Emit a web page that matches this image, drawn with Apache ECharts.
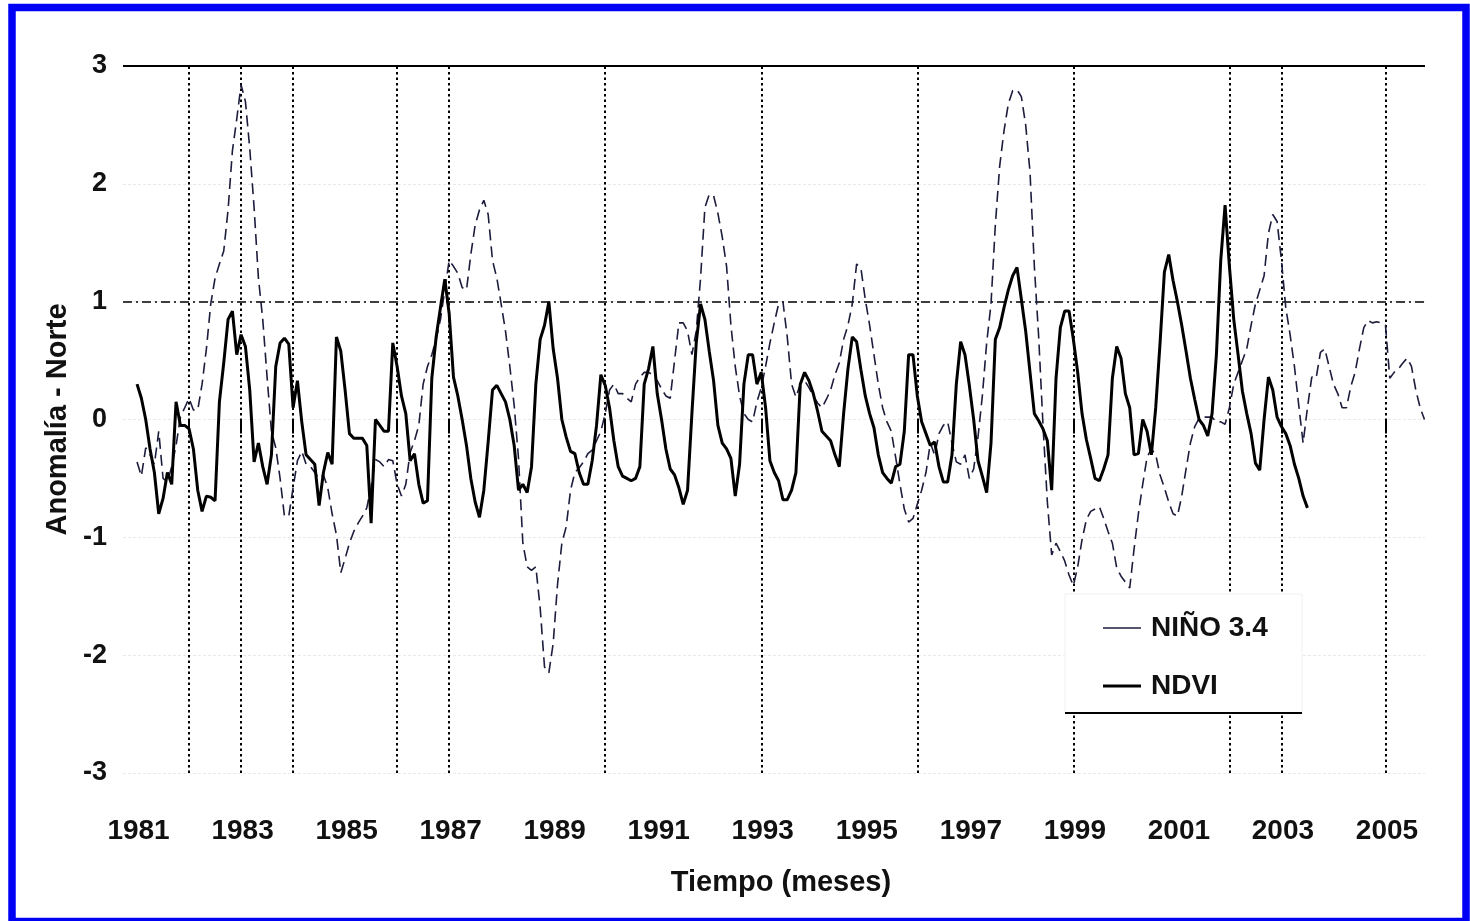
<!DOCTYPE html>
<html>
<head>
<meta charset="utf-8">
<script src="https://cdn.jsdelivr.net/npm/echarts@6/dist/echarts.min.js"></script>
<style>
html,body{margin:0;padding:0;background:#fff;}
#chart{width:1470px;height:921px;}
</style>
</head>
<body>
<div id="chart"></div>
<script>
// ---- data (monthly anomalies) ----
const startYear = 1981;
const ndviValues = [
  0.30, 0.18, 0.00, -0.25, -0.45, -0.80, -0.67, -0.45, -0.55, 0.15, -0.05, -0.05,
  -0.08, -0.25, -0.60, -0.78, -0.65, -0.66, -0.69, 0.15, 0.48, 0.85, 0.92, 0.55,
  0.72, 0.62, 0.25, -0.36, -0.20, -0.40, -0.55, -0.30, 0.45, 0.65, 0.69, 0.64,
  0.10, 0.33, -0.02, -0.30, -0.34, -0.38, -0.73, -0.45, -0.28, -0.38, 0.70, 0.58,
  0.25, -0.12, -0.16, -0.16, -0.16, -0.22, -0.88, 0.00, -0.05, -0.10, -0.10, 0.65,
  0.45, 0.20, 0.05, -0.35, -0.29, -0.55, -0.71, -0.69, 0.35, 0.70, 0.95, 1.19,
  0.90, 0.36, 0.20, 0.00, -0.22, -0.50, -0.70, -0.83, -0.60, -0.19, 0.25, 0.29,
  0.22, 0.15, 0.00, -0.22, -0.60, -0.55, -0.62, -0.40, 0.30, 0.68, 0.80, 1.00,
  0.60, 0.35, 0.00, -0.15, -0.27, -0.29, -0.45, -0.55, -0.55, -0.35, -0.05, 0.38,
  0.29, 0.10, -0.18, -0.40, -0.48, -0.50, -0.52, -0.50, -0.40, 0.30, 0.43, 0.62,
  0.22, 0.00, -0.25, -0.42, -0.47, -0.58, -0.72, -0.60, 0.05, 0.65, 0.98, 0.85,
  0.58, 0.33, -0.05, -0.20, -0.25, -0.33, -0.65, -0.38, 0.30, 0.55, 0.55, 0.30,
  0.40, 0.10, -0.35, -0.45, -0.52, -0.68, -0.68, -0.60, -0.45, 0.30, 0.40, 0.33,
  0.22, 0.07, -0.10, -0.14, -0.18, -0.30, -0.40, 0.05, 0.43, 0.70, 0.66, 0.42,
  0.20, 0.05, -0.07, -0.30, -0.45, -0.50, -0.54, -0.40, -0.38, -0.10, 0.55, 0.55,
  0.20, -0.02, -0.12, -0.22, -0.19, -0.40, -0.53, -0.53, -0.30, 0.30, 0.66, 0.55,
  0.29, 0.00, -0.35, -0.48, -0.62, -0.20, 0.68, 0.78, 0.95, 1.10, 1.22, 1.29,
  1.02, 0.75, 0.40, 0.05, -0.01, -0.08, -0.18, -0.60, 0.35, 0.78, 0.92, 0.92,
  0.68, 0.40, 0.05, -0.17, -0.33, -0.50, -0.52, -0.42, -0.30, 0.35, 0.62, 0.52,
  0.22, 0.10, -0.30, -0.29, 0.00, -0.10, -0.30, 0.10, 0.65, 1.25, 1.40, 1.18,
  1.00, 0.80, 0.58, 0.35, 0.17, 0.00, -0.05, -0.14, 0.05, 0.55, 1.35, 1.82,
  1.30, 0.85, 0.55, 0.24, 0.05, -0.12, -0.37, -0.43, 0.00, 0.36, 0.25, 0.02,
  -0.06, -0.12, -0.22, -0.38, -0.50, -0.65, -0.75
];
const ninoValues = [
  -0.36, -0.48, -0.24, -0.30, -0.38, -0.10, -0.50, -0.53, -0.40, -0.22, 0.02, 0.10,
  0.18, 0.08, 0.08, 0.30, 0.60, 0.98, 1.20, 1.32, 1.43, 1.78, 2.28, 2.55,
  2.84, 2.70, 2.30, 1.80, 1.20, 0.85, 0.36, -0.10, -0.24, -0.50, -0.82, -0.82,
  -0.58, -0.35, -0.27, -0.38, -0.40, -0.45, -0.50, -0.47, -0.58, -0.80, -0.98, -1.30,
  -1.18, -1.05, -0.95, -0.88, -0.82, -0.75, -0.57, -0.34, -0.36, -0.40, -0.34, -0.35,
  -0.55, -0.65, -0.55, -0.28, -0.18, -0.05, 0.30, 0.45, 0.55, 0.68, 0.85, 1.10,
  1.35, 1.30, 1.24, 1.12, 1.10, 1.40, 1.65, 1.78, 1.86, 1.74, 1.35, 1.20,
  0.98, 0.75, 0.45, 0.12, -0.33, -1.05, -1.25, -1.28, -1.25, -1.60, -2.10, -2.15,
  -1.90, -1.40, -1.05, -0.91, -0.60, -0.45, -0.41, -0.36, -0.29, -0.26, -0.18, -0.10,
  0.05, 0.25, 0.30, 0.22, 0.22, 0.18, 0.15, 0.30, 0.36, 0.40, 0.40, 0.38,
  0.33, 0.26, 0.20, 0.18, 0.50, 0.82, 0.82, 0.75, 0.55, 0.75, 1.20, 1.80,
  1.91, 1.90, 1.75, 1.55, 1.30, 0.80, 0.45, 0.20, 0.05, 0.00, -0.02, 0.15,
  0.27, 0.45, 0.65, 0.82, 0.98, 1.00, 0.70, 0.30, 0.19, 0.30, 0.33, 0.27,
  0.20, 0.14, 0.10, 0.17, 0.25, 0.38, 0.48, 0.68, 0.80, 0.98, 1.32, 1.28,
  1.02, 0.80, 0.55, 0.30, 0.10, -0.02, -0.10, -0.32, -0.55, -0.76, -0.87, -0.84,
  -0.72, -0.60, -0.45, -0.20, -0.30, -0.12, -0.05, -0.02, -0.20, -0.36, -0.38, -0.30,
  -0.50, -0.42, -0.15, 0.20, 0.65, 0.98, 1.65, 2.15, 2.45, 2.68, 2.79, 2.80,
  2.74, 2.50, 2.10, 1.30, 0.70, -0.05, -0.70, -1.15, -1.05, -1.12, -1.20, -1.32,
  -1.41, -1.25, -1.02, -0.85, -0.78, -0.76, -0.74, -0.84, -0.95, -1.05, -1.26, -1.33,
  -1.38, -1.43, -1.10, -0.80, -0.55, -0.32, -0.25, -0.30, -0.47, -0.58, -0.70, -0.80,
  -0.82, -0.65, -0.42, -0.20, -0.06, 0.01, 0.02, 0.02, 0.02, -0.02, -0.02, -0.04,
  0.10, 0.30, 0.40, 0.50, 0.60, 0.80, 0.98, 1.10, 1.22, 1.58, 1.74, 1.68,
  1.35, 0.95, 0.72, 0.45, 0.12, -0.20, 0.10, 0.36, 0.35, 0.57, 0.60, 0.45,
  0.30, 0.22, 0.10, 0.10, 0.28, 0.40, 0.60, 0.78, 0.84, 0.82, 0.83, 0.82,
  0.80, 0.35, 0.40, 0.43, 0.48, 0.52, 0.45, 0.25, 0.10, 0.00
];
const xLabelYears = [1981, 1983, 1985, 1987, 1989, 1991, 1993, 1995, 1997, 1999, 2001, 2003, 2005];
const markerYears = [1982, 1983, 1984, 1986, 1987, 1990, 1993, 1996, 1999, 2002, 2003, 2005];
const seriesNames = ['NIÑO 3.4', 'NDVI'];

const toPoints = arr => arr.map((v, i) => [startYear + i / 12, v]);

const FONT = '"Liberation Sans", Arial, sans-serif';

const chart = echarts.init(document.getElementById('chart'), null, {renderer: 'canvas'});
const gL = 123, gR = 1425, gT = 66, gB = 773;

chart.setOption({
  animation: false,
  backgroundColor: '#ffffff',
  grid: {left: gL, right: 1470 - gR, top: gT, bottom: 921 - gB, containLabel: false},
  xAxis: {
    type: 'value',
    min: 1980.73,
    max: 2005.76,
    name: 'Tiempo (meses)',
    nameLocation: 'middle',
    nameGap: 95,
    nameTextStyle: {fontFamily: FONT, fontWeight: 'bold', fontSize: 29, color: '#111', padding: [0, 0, 0, 14]},
    axisLine: {show: false},
    axisTick: {show: true, customValues: markerYears, length: 14, lineStyle: {color: '#000', width: 2}},
    axisLabel: {customValues: xLabelYears, margin: 44, fontFamily: FONT, fontWeight: 'bold', fontSize: 28, color: '#111',
      padding: [0, 0, 0, 3], formatter: v => String(v)},
    splitLine: {show: false}
  },
  yAxis: {
    type: 'value',
    min: -3, max: 3, interval: 1,
    name: 'Anomalía - Norte',
    nameLocation: 'middle',
    nameGap: 44,
    nameTextStyle: {fontFamily: FONT, fontWeight: 'bold', fontSize: 29, color: '#111'},
    axisLine: {show: false},
    axisTick: {show: false},
    axisLabel: {margin: 16, fontFamily: FONT, fontWeight: 'bold', fontSize: 27, color: '#111'},
    splitLine: {show: true, lineStyle: {color: '#e9e9e9', width: 1, type: [3, 2]}}
  },
  legend: {
    orient: 'vertical',
    left: 1103,
    top: 614,
    z: 20,
    itemWidth: 38,
    itemHeight: 12,
    itemGap: 30,
    padding: 0,
    textStyle: {fontFamily: FONT, fontWeight: 'bold', fontSize: 28, color: '#111', padding: [0, 0, 0, 5]},
    data: [
      {name: seriesNames[0], icon: 'path://M0 0H40V1.4H0Z'},
      {name: seriesNames[1], icon: 'path://M0 0H40V3.4H0Z'}
    ]
  },
  graphic: [
    {type: 'rect', z: 15, silent: true,
      shape: {x: 1065, y: 594, width: 237, height: 119},
      style: {fill: '#ffffff', stroke: '#f0f0f0', lineWidth: 1}},
    {type: 'line', z: 16, silent: true,
      shape: {x1: 1065, y1: 713, x2: 1302, y2: 713},
      style: {stroke: '#000', lineWidth: 2}},
    {type: 'rect', z: 30, silent: true,
      shape: {x: 12, y: 7.5, width: 1454, height: 914},
      style: {fill: 'none', stroke: '#0000f5', lineWidth: 7.5}}
  ],
  series: [
    {
      name: seriesNames[0],
      type: 'line',
      data: toPoints(ninoValues),
      showSymbol: false,
      symbol: 'none',
      color: '#1c1c3c',
      lineStyle: {color: '#1c1c3c', width: 1.6, type: [11, 6]},
      z: 3,
      markLine: {
        silent: true, symbol: 'none', label: {show: false}, z: 1,
        lineStyle: {color: '#000', width: 2, type: [2.5, 3]},
        data: markerYears.map(y => ({xAxis: y}))
      }
    },
    {
      name: seriesNames[1],
      type: 'line',
      data: toPoints(ndviValues),
      showSymbol: false,
      symbol: 'none',
      color: '#000',
      lineStyle: {color: '#000', width: 3},
      z: 4,
      markLine: {
        silent: true, symbol: 'none', label: {show: false}, z: 1,
        data: [
          {yAxis: 3, lineStyle: {color: '#000', width: 2, type: 'solid'}},
          {yAxis: 1, lineStyle: {color: '#000', width: 1.6, type: [9, 4, 2, 4]}}
        ]
      }
    }
  ]
});
</script>
</body>
</html>
